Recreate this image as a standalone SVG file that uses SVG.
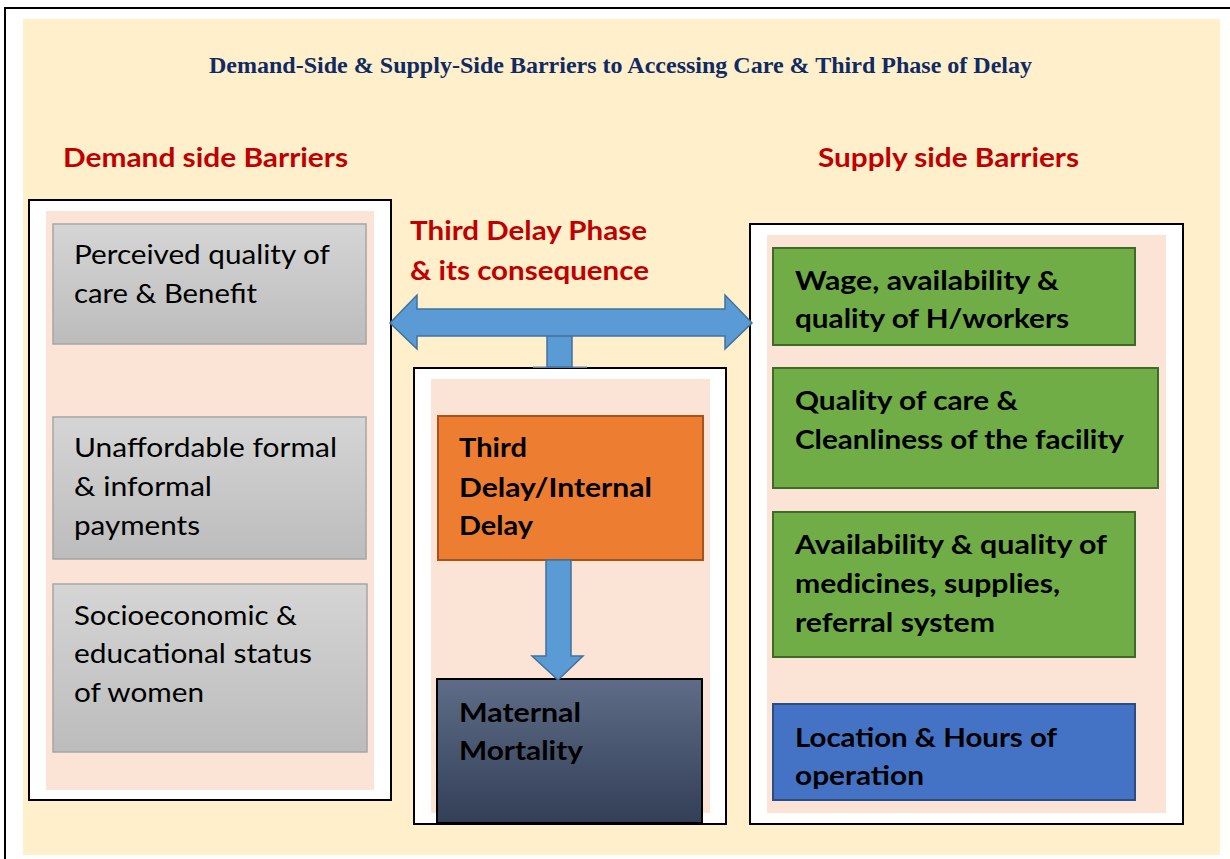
<svg xmlns="http://www.w3.org/2000/svg" width="1230" height="859" viewBox="0 0 1230 859">
  <style>
    .ttl { font-family: "Liberation Serif", "Times New Roman", serif; font-weight: bold; font-size: 24px; fill: #102A63; }
    .hd { font-family: Lato, "Liberation Sans", sans-serif; font-weight: bold; font-size: 26px; fill: #C00000; }
    .reg { font-family: Lato, "Liberation Sans", sans-serif; font-size: 27.5px; fill: #000; }
    .bld { font-family: Lato, "Liberation Sans", sans-serif; font-weight: bold; font-size: 27.5px; fill: #000; }
    .panel { fill: #FFFFFF; stroke: #000; stroke-width: 2; }
    .inner { fill: #FBE3D6; }
    .grey { fill: url(#greyGrad); stroke: #A6A6A6; stroke-width: 1.5; }
    .green { fill: #70AD47; stroke: #3F6B29; stroke-width: 2; }
    .blueBox { fill: #4472C4; stroke: #2B4C84; stroke-width: 2; }
    .orange { fill: #ED7D31; stroke: #A9531A; stroke-width: 2; }
    .dark { fill: url(#darkGrad); stroke: #000; stroke-width: 2; }
    .arrow { fill: #5B9BD5; stroke: #41719C; stroke-width: 1.5; stroke-linejoin: miter; }
  </style>
  <defs>
    <linearGradient id="greyGrad" x1="0" y1="0" x2="0" y2="1">
      <stop offset="0" stop-color="#D5D5D5"/>
      <stop offset="1" stop-color="#BCBCBC"/>
    </linearGradient>
    <linearGradient id="darkGrad" x1="0" y1="0" x2="0" y2="1">
      <stop offset="0" stop-color="#5E6C87"/>
      <stop offset="1" stop-color="#333F57"/>
    </linearGradient>
  </defs>

  <!-- page frame and background -->
  <rect x="0" y="0" width="1230" height="859" fill="#FFFFFF"/>
  <rect x="5" y="8" width="1240" height="900" fill="#FFFFFF" stroke="#000" stroke-width="2"/>
  <rect x="23" y="19" width="1197" height="836" fill="#FFF0CB"/>

  <!-- headings -->
  <text class="ttl" x="209" y="73" textLength="823" lengthAdjust="spacingAndGlyphs">Demand-Side &amp; Supply-Side Barriers to Accessing Care &amp; Third Phase of Delay</text>
  <text class="hd" x="63" y="167" textLength="285" lengthAdjust="spacingAndGlyphs">Demand side Barriers</text>
  <text class="hd" x="818" y="167" textLength="261" lengthAdjust="spacingAndGlyphs">Supply side Barriers</text>
  <text class="hd" x="410" y="240" textLength="237" lengthAdjust="spacingAndGlyphs">Third Delay Phase</text>
  <text class="hd" x="410" y="280" textLength="239" lengthAdjust="spacingAndGlyphs">&amp; its consequence</text>

  <!-- demand side panel -->
  <g id="demand-panel">
    <rect class="panel" x="29" y="200" width="362" height="600"/>
    <rect class="inner" x="46" y="211" width="328" height="579"/>
  </g>
  <g id="perceived-quality">
    <rect class="grey" x="53" y="224" width="313" height="120"/>
    <text class="reg" x="74" y="264" textLength="256" lengthAdjust="spacingAndGlyphs">Perceived quality of</text>
    <text class="reg" x="74" y="303" textLength="183" lengthAdjust="spacingAndGlyphs">care &amp; Benefit</text>
  </g>
  <g id="unaffordable-payments">
    <rect class="grey" x="53" y="417" width="313" height="142"/>
    <text class="reg" x="74" y="457" textLength="263" lengthAdjust="spacingAndGlyphs">Unaffordable formal</text>
    <text class="reg" x="74" y="496" textLength="138" lengthAdjust="spacingAndGlyphs">&amp; informal</text>
    <text class="reg" x="74" y="535" textLength="126" lengthAdjust="spacingAndGlyphs">payments</text>
  </g>
  <g id="socioeconomic-status">
    <rect class="grey" x="53" y="584" width="314" height="168"/>
    <text class="reg" x="74" y="625" textLength="223" lengthAdjust="spacingAndGlyphs">Socioeconomic &amp;</text>
    <text class="reg" x="74" y="663" textLength="238" lengthAdjust="spacingAndGlyphs">educational status</text>
    <text class="reg" x="74" y="702" textLength="130" lengthAdjust="spacingAndGlyphs">of women</text>
  </g>

  <!-- central panel -->
  <g id="delay-panel">
    <rect class="panel" x="414" y="368" width="312" height="456"/>
    <rect class="inner" x="431" y="379" width="279" height="434"/>
  </g>
  <g id="third-delay">
    <rect class="orange" x="438" y="416" width="265" height="144"/>
    <text class="bld" x="459" y="457" textLength="68" lengthAdjust="spacingAndGlyphs">Third</text>
    <text class="bld" x="459" y="497" textLength="193" lengthAdjust="spacingAndGlyphs">Delay/Internal</text>
    <text class="bld" x="459" y="535" textLength="74" lengthAdjust="spacingAndGlyphs">Delay</text>
  </g>
  <g id="maternal-mortality">
    <rect class="dark" x="437" y="679" width="265" height="144"/>
    <text class="bld" x="459" y="722" textLength="122" lengthAdjust="spacingAndGlyphs">Maternal</text>
    <text class="bld" x="459" y="760" textLength="124" lengthAdjust="spacingAndGlyphs">Mortality</text>
  </g>

  <!-- supply side panel -->
  <g id="supply-panel">
    <rect class="panel" x="750" y="224" width="433" height="600"/>
    <rect class="inner" x="767" y="235" width="399" height="578"/>
  </g>
  <g id="health-workers">
    <rect class="green" x="773" y="248" width="362" height="97"/>
    <text class="bld" x="795" y="290" textLength="264" lengthAdjust="spacingAndGlyphs">Wage, availability &amp;</text>
    <text class="bld" x="795" y="328" textLength="274" lengthAdjust="spacingAndGlyphs">quality of H/workers</text>
  </g>
  <g id="quality-cleanliness">
    <rect class="green" x="773" y="368" width="385" height="120"/>
    <text class="bld" x="795" y="410" textLength="223" lengthAdjust="spacingAndGlyphs">Quality of care &amp;</text>
    <text class="bld" x="795" y="449" textLength="329" lengthAdjust="spacingAndGlyphs">Cleanliness of the facility</text>
  </g>
  <g id="medicines-supplies">
    <rect class="green" x="773" y="512" width="362" height="145"/>
    <text class="bld" x="795" y="554" textLength="312" lengthAdjust="spacingAndGlyphs">Availability &amp; quality of</text>
    <text class="bld" x="795" y="593" textLength="265" lengthAdjust="spacingAndGlyphs">medicines, supplies,</text>
    <text class="bld" x="795" y="632" textLength="200" lengthAdjust="spacingAndGlyphs">referral system</text>
  </g>
  <g id="location-hours">
    <rect class="blueBox" x="773" y="704" width="362" height="96"/>
    <text class="bld" x="795" y="747" textLength="262" lengthAdjust="spacingAndGlyphs">Location &amp; Hours of</text>
    <text class="bld" x="795" y="785" textLength="129" lengthAdjust="spacingAndGlyphs">operation</text>
  </g>

  <!-- connectors -->
  <g id="connectors">
    <line x1="533" y1="367" x2="587" y2="367" stroke="#8FA6C0" stroke-width="1.5"/>
    <rect class="arrow" x="547" y="330" width="25" height="37"/>
    <polygon class="arrow" points="390,323 417,295 417,309 725,309 725,295 752,323 725,349 725,336 417,336 417,349"/>
    <polygon class="arrow" points="546,560 571,560 571,656 583,656 558,680 532,656 546,656"/>
  </g>
</svg>
